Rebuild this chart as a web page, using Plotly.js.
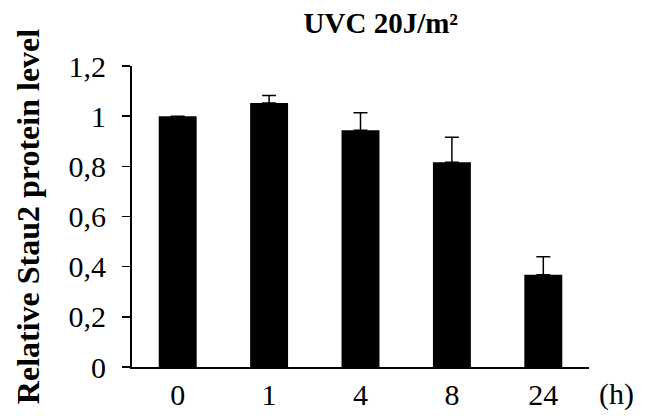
<!DOCTYPE html>
<html>
<head>
<meta charset="utf-8">
<script src="https://cdn.plot.ly/plotly-3.0.1.min.js"></script>
<style>html,body{margin:0;padding:0;background:#fff;}#chart{width:660px;height:420px;}</style>
</head>
<body>
<div id="chart"></div>
<script>
const categories = ["0", "1", "4", "8", "24"];
const values = [1.0, 1.052, 0.944, 0.816, 0.368];
const errors = [0, 0.03, 0.07, 0.10, 0.072];
const yTicks = [0, 0.2, 0.4, 0.6, 0.8, 1.0, 1.2];
const yTickLabels = ["0", "0,2", "0,4", "0,6", "0,8", "1", "1,2"];

const serif = "'Liberation Serif', 'Times New Roman', serif";

const trace = {
  type: "bar",
  x: categories,
  y: values,
  marker: {color: "#000000", line: {width: 0}},
  error_y: {type: "data", array: errors, symmetric: false, arrayminus: [0,0,0,0,0], visible: true, color: "#000000", thickness: 1.5, width: 7},
  width: 0.415,
  hoverinfo: "none"
};

const layout = {
  width: 660, height: 420,
  margin: {l: 132, r: 71, t: 66, b: 53},
  paper_bgcolor: "#ffffff", plot_bgcolor: "#ffffff",
  showlegend: false,
  font: {family: serif, color: "#000000", size: 30},
  title: {text: "<b>UVC 20J/m²</b>", font: {family: serif, size: 29, color: "#000"}, x: 0.577, xanchor: "center", y: 0.945, yanchor: "middle"},
  xaxis: {
    type: "category", range: [-0.5, 4.5],
    showline: true, linecolor: "#000", linewidth: 2,
    ticks: "", showgrid: false, zeroline: false,
    tickfont: {family: serif, size: 30, color: "#000"}
  },
  yaxis: {
    range: [0, 1.2], tickvals: yTicks, ticktext: yTickLabels,
    showline: true, linecolor: "#000", linewidth: 2,
    ticks: "outside", ticklen: 8, tickwidth: 1.5, tickcolor: "#000",
    ticklabelstandoff: 10,
    showgrid: false, zeroline: false,
    tickfont: {family: serif, size: 30, color: "#000"},
    title: {text: "<b>Relative Stau2 protein level</b>", font: {family: serif, size: 32, color: "#000"}, standoff: 19}
  },
  annotations: [
    {text: "(h)", xref: "paper", yref: "paper", x: 1.0, y: 0, xanchor: "left", yanchor: "top", xshift: 8, yshift: -8, showarrow: false, font: {family: serif, size: 30, color: "#000"}},
    {text: "**", xref: "x", yref: "y", x: "24", y: values[4] + errors[4], yanchor: "bottom", yshift: 3, showarrow: false, font: {family: serif, size: 28, color: "#000"}}
  ]
};

Plotly.newPlot("chart", [trace], layout, {staticPlot: true, displayModeBar: false});
</script>
</body>
</html>
